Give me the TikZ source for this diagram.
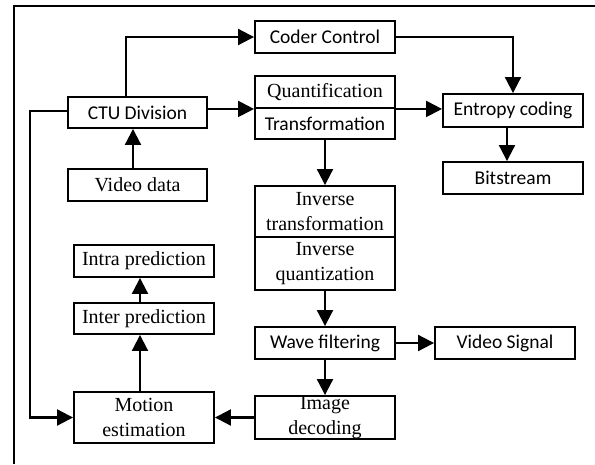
\documentclass[tikz,border=0pt]{standalone}
\usepackage{fontspec}
\setmainfont{Liberation Serif}
\newfontfamily\calib{Carlito}
\usetikzlibrary{arrows.meta}
\tikzset{
  box/.style={draw, line width=1.9pt, inner sep=0pt, align=center, minimum width=140pt},
  serif/.style={font=\fontsize{20}{25}\selectfont},
  sans/.style={font=\calib\fontsize{19.5}{23}\selectfont},
  arr/.style={line width=2.1pt, -{Triangle[length=16pt,width=16pt]}},
  frame/.style={line width=1.9pt}
}
\begin{document}
\begin{tikzpicture}[x=1pt,y=-1pt]
\useasboundingbox (0,0) rectangle (595,464);
\draw[frame] (14,464) -- (14,6) -- (595,6);

\node[box,sans,minimum height=32pt] (coder) at (325,37) {Coder Control};
\node[box,serif,minimum height=32pt] (quant) at (325,92) {Quantification};
\node[box,sans,minimum height=31pt] (transf) at (325,123.5) {Transformation};
\node[box,sans,minimum width=139pt,minimum height=31pt] (ctu) at (137.5,112.5) {CTU Division};
\node[box,serif,minimum width=139pt,minimum height=32pt] (video) at (137.5,185) {Video data};
\node[box,sans,minimum height=33pt] (entropy) at (513,110.5) {Entropy coding};
\node[box,sans,minimum height=32pt] (bits) at (513,178) {Bitstream};
\node[box,serif,minimum height=51pt] (invT) at (325,211.5) {Inverse\\transformation};
\node[box,serif,minimum height=53pt] (invQ) at (325,263.5) {Inverse\\quantization};
\node[box,sans,minimum height=32pt] (wave) at (325,343) {Wave filtering};
\node[box,sans,minimum height=32pt] (signal) at (505,343) {Video Signal};
\node[box,serif,minimum height=43pt] (decod) at (325,417.5) {Image\\decoding};
\node[box,serif,minimum height=51pt] (motion) at (144,417.5) {Motion\\estimation};
\node[box,serif,minimum height=31pt] (inter) at (144,318.5) {Inter prediction};
\node[box,serif,minimum height=32pt] (intra) at (144,261) {Intra prediction};

\draw[arr] ([xshift=-11.5pt]ctu.north) |- (coder.west);
\draw[arr] (ctu.east |- quant.south west) -- (quant.south west);
\draw[arr] (coder.east) -| (entropy.north);
\draw[arr] (quant.south east) -- (quant.south east -| entropy.west);
\draw[arr] ([xshift=-6pt]entropy.south) -- ([xshift=-6pt]bits.north);
\draw[arr] (transf.south) -- (invT.north);
\draw[arr] (invQ.south) -- (wave.north);
\draw[arr] (wave.east) -- (signal.west);
\draw[arr] (wave.south) -- (decod.north);
\draw[arr] (decod.west) -- (motion.east);
\draw[arr] ([xshift=-4pt]motion.north) -- ([xshift=-4pt]inter.south);
\draw[arr] ([xshift=-4pt]inter.north) -- ([xshift=-4pt]intra.south);
\draw[arr] ([xshift=-4.5pt]video.north) -- ([xshift=-4.5pt]ctu.south);
\coordinate (fb) at ([xshift=-37pt,yshift=1.5pt]ctu.west);
\draw[arr] ([yshift=1.5pt]ctu.west) -- (fb) |- (motion.west);
\end{tikzpicture}
\end{document}
